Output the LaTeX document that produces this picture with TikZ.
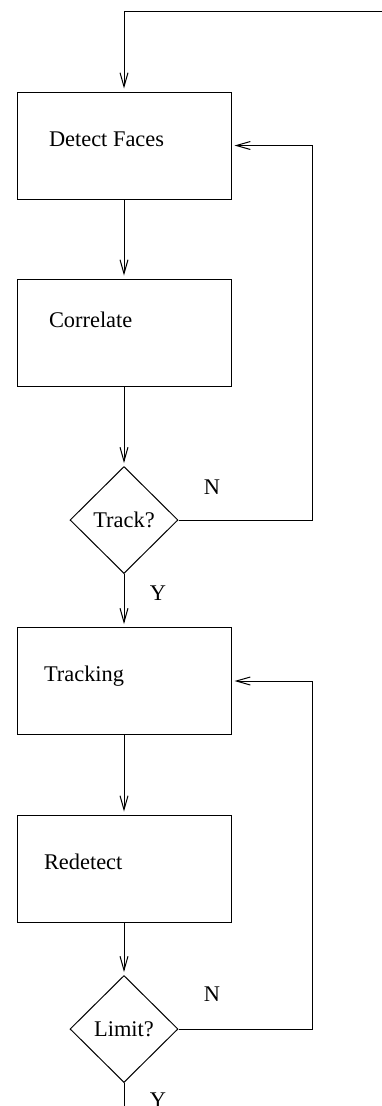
\documentclass[tikz,border=0pt]{standalone}
\usepackage{fontspec}
\setmainfont{Liberation Serif}
\usepackage{tikz}
\usetikzlibrary{arrows.meta,shapes.geometric}

\begin{document}
\begin{tikzpicture}[
  x=1pt,y=-1pt,
  line width=1pt,
  >={Straight Barb[length=14pt,width=8pt]},
  every node/.style={font=\fontsize{22.4}{27}\selectfont,inner sep=0pt},
  stage/.style={draw,rectangle,minimum width=214pt,minimum height=107pt},
  stage text/.style={anchor=base west},
  test/.style={draw,diamond,minimum width=108pt,minimum height=107pt},
  flow/.style={->,shorten >=3pt},
]
\useasboundingbox (0,0) rectangle (382,1106);
\foreach \nm/\cy/\txt/\dx/\dy in {detect/145.5/Detect Faces/32/-1,correlate/332.5/Correlate/32/5,tracking/681/Tracking/27/0,redetect/868.5/Redetect/27/-1} {
  \node[stage] (\nm) at (124,\cy) {};
  \node[stage text] (\nm-t) at ([xshift=\dx pt,yshift=\dy pt]\nm.west) {\txt};
}
\node[test] (track) at (124,520) {Track?};
\node[test] (limit) at (124,1029) {Limit?};
\coordinate (in) at (382,11.7);
\coordinate (out) at (124,1106);

\draw[flow] (in) -| (detect.north);
\draw[flow] (detect.south) -- (correlate.north);
\draw[flow] (correlate.south) -- (track.north);
\draw[flow] (track.east) -- node[pos=0.25,yshift=33pt] (track-n) {N} ++(133.5,0) |- (detect.east);
\draw[flow] (track.south) -- node[pos=0.36,xshift=34pt] (track-y) {Y} (tracking.north);
\draw[flow] (tracking.south) -- (redetect.north);
\draw[flow] (redetect.south) -- (limit.north);
\draw[flow] (limit.east) -- node[pos=0.25,yshift=35pt] (limit-n) {N} ++(133.5,0) |- (tracking.east);
\draw (limit.south) -- node[pos=0.74,xshift=34pt] (limit-y) {Y} (out);
\end{tikzpicture}
\end{document}
